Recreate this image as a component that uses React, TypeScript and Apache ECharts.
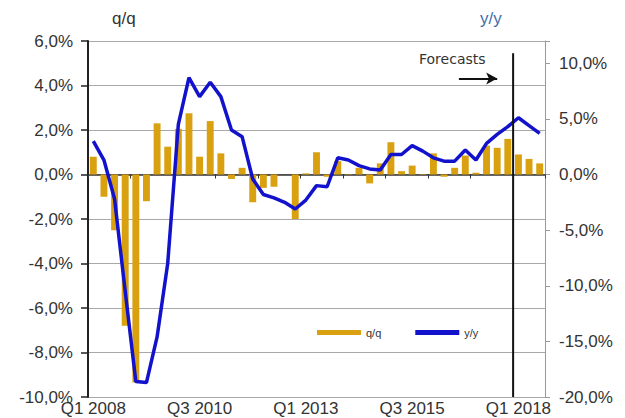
import React, { useEffect, useRef } from "react";
import * as echarts from "echarts";

const quarters: string[] = [];
for (let y = 2008; y <= 2018; y++) {
  for (let q = 1; q <= 4; q++) {
    if (y === 2018 && q === 4) break;
    quarters.push(`Q${q} ${y}`);
  }
}

const qqValues = [
  0.8, -1.0, -2.5, -6.8, -9.35, -1.2, 2.3, 1.25, 2.05, 2.75, 0.8, 2.4, 0.95,
  -0.2, 0.3, -1.25, -0.6, -0.55, 0.0, -2.0, 0.05, 1.0, -0.1, 0.6, 0.02, 0.3,
  -0.4, 0.5, 1.45, 0.15, 0.4, 0.02, 0.95, -0.1, 0.3, 0.85, 0.08, 1.3, 1.2, 1.6,
  0.9, 0.7, 0.5,
];

const yyValues = [
  3.0, 1.3, -2.2, -10.5, -18.6, -18.7, -14.6, -8.0, 4.5, 8.7, 7.0, 8.3, 7.0,
  4.0, 3.4, -0.4, -1.8, -2.1, -2.5, -3.1, -2.3, -1.0, -1.1, 1.5, 1.3, 0.8, 0.5,
  0.4, 1.8, 1.8, 2.6, 2.1, 1.5, 1.2, 1.2, 2.2, 1.3, 2.8, 3.6, 4.3, 5.1, 4.4,
  3.7,
];

// forecast boundary (between Q4 2017 and Q1 2018), in band units
const forecastLine = [
  [40, 5.45],
  [40, -10],
];
const forecastArrow = [
  [34.9, 4.31],
  [38.5, 4.31],
];

const leftTicks = { min: -10, max: 6, interval: 2 };
const rightTicks = { min: -20, max: 12, interval: 5 };

const fmt = (v: number) => v.toFixed(1).replace(".", ",") + "%";
const FONT = "'Liberation Sans', Arial, sans-serif";

export default function App() {
  const ref = useRef<HTMLDivElement>(null);
  useEffect(() => {
    document.body.style.margin = "0";
    if (!ref.current) return;
    const chart = echarts.init(ref.current, null, { renderer: "svg" });
    chart.setOption({
      animation: false,
      backgroundColor: "#ffffff",
      textStyle: { fontFamily: FONT },
      title: [
        {
          text: "q/q",
          left: 112,
          top: 10,
          padding: 0,
          textStyle: { fontSize: 17, fontWeight: "normal", color: "#333", fontFamily: FONT },
        },
        {
          text: "y/y",
          left: 480,
          top: 10,
          padding: 0,
          textStyle: { fontSize: 17, fontWeight: "normal", color: "#3F6FA8", fontFamily: FONT },
        },
      ],
      legend: {
        data: ["q/q", "y/y"],
        left: 317,
        top: 327,
        padding: 0,
        icon: "rect",
        itemWidth: 44,
        itemHeight: 5,
        itemGap: 34,
        textStyle: { fontSize: 11, color: "#333", fontFamily: FONT },
      },
      graphic: [
        {
          type: "text",
          left: 419,
          top: 52,
          style: {
            text: "Forecasts",
            fontSize: 14,
            fontFamily: "DejaVu Sans, sans-serif",
            fill: "#333",
          },
        },
      ],
      grid: { left: 88, right: 80, top: 41, bottom: 21, containLabel: false },
      xAxis: [
        {
          type: "category",
          data: quarters,
          position: "bottom",
          boundaryGap: true,
          axisLine: { show: false, onZero: false },
          axisTick: { show: false },
          axisLabel: {
            interval: 9,
            fontSize: 17,
            color: "#333",
            margin: 3,
            fontFamily: FONT,
          },
          splitLine: { show: false },
        },
        {
          type: "category",
          data: quarters,
          position: "top",
          boundaryGap: true,
          axisLine: {
            show: true,
            onZero: true,
            onZeroAxisIndex: 0,
            lineStyle: { color: "#333", width: 1.5 },
          },
          axisTick: {
            show: true,
            interval: 3,
            inside: true,
            length: 4,
            lineStyle: { color: "#333", width: 1 },
          },
          axisLabel: { show: false },
          splitLine: { show: false },
        },
        { type: "value", min: 0, max: 43, show: false },
      ],
      yAxis: [
        {
          type: "value",
          position: "left",
          min: leftTicks.min,
          max: leftTicks.max,
          interval: leftTicks.interval,
          axisLine: { show: true, lineStyle: { color: "#222", width: 2 } },
          axisTick: { show: true, length: 7, lineStyle: { color: "#222", width: 1.5 } },
          axisLabel: { formatter: fmt, fontSize: 17, color: "#333", margin: 15, fontFamily: FONT },
          splitLine: { show: true, lineStyle: { color: "#A8A8A8", width: 1 } },
        },
        {
          type: "value",
          position: "right",
          min: rightTicks.min,
          max: rightTicks.max,
          interval: rightTicks.interval,
          axisLine: { show: true, lineStyle: { color: "#999", width: 1 } },
          axisTick: { show: true, length: 5, lineStyle: { color: "#999" } },
          axisLabel: {
            formatter: (v: number) => (v % 5 === 0 ? fmt(v) : ""),
            fontSize: 17,
            color: "#333",
            margin: 14,
            fontFamily: FONT,
          },
          splitLine: { show: false },
        },
      ],
      series: [
        {
          name: "q/q",
          type: "bar",
          xAxisIndex: 0,
          yAxisIndex: 0,
          data: qqValues,
          barWidth: "65%",
          itemStyle: { color: "#D9A010" },
          z: 2,
        },
        {
          name: "y/y",
          type: "line",
          xAxisIndex: 0,
          yAxisIndex: 1,
          data: yyValues,
          symbol: "none",
          lineStyle: { color: "#1212CC", width: 3.5 },
          itemStyle: { color: "#1212CC" },
          z: 3,
        },
        {
          name: "forecast",
          type: "line",
          xAxisIndex: 2,
          yAxisIndex: 0,
          data: forecastLine,
          symbol: "none",
          lineStyle: { color: "#111", width: 2 },
          z: 4,
          markLine: {
            silent: true,
            symbol: ["none", "arrow"],
            symbolSize: [9, 11],
            label: { show: false },
            lineStyle: { color: "#111", width: 2, type: "solid" },
            data: [
              [
                { coord: forecastArrow[0] },
                { coord: forecastArrow[1] },
              ],
            ],
          },
        },
      ],
    });
    return () => chart.dispose();
  }, []);
  return <div ref={ref} style={{ width: 625, height: 418 }} />;
}
